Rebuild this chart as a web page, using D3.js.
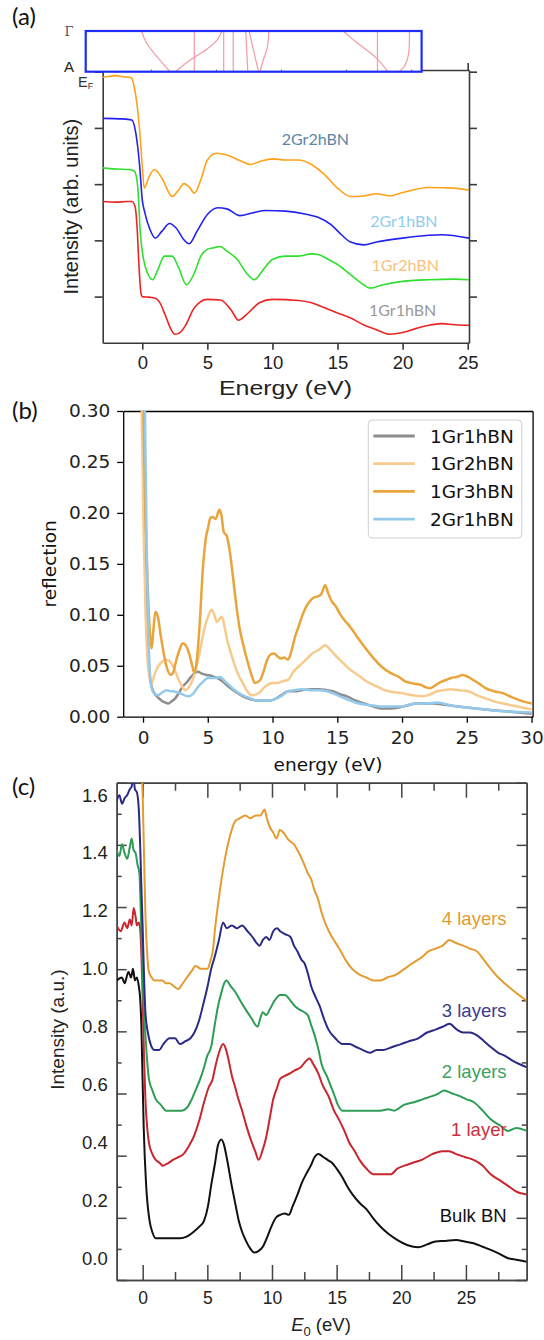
<!DOCTYPE html>
<html>
<head>
<meta charset="utf-8">
<script src="https://cdn.jsdelivr.net/npm/d3@7"></script>
<style>
  body { margin: 0; background: #fff; }
  svg { display: block; }
</style>
</head>
<body>
<svg id="fig" width="544" height="1340"></svg>
<script>
// ---------- panel (a) : intensity vs energy, offset curves ----------
const aTicksX = [0, 5, 10, 15, 20, 25];
const aTicksY = [1, 2, 3, 4, 5];
const a2Gr2hBN = [[-3.04,4.90],[-2.5,4.92],[-2.0,4.93],[-1.5,4.91],[-1.0,4.90],[-0.8,4.88],[-0.6,4.70],[-0.45,4.50],[-0.2,3.95],[0.0,3.32],[0.15,2.93],[0.5,3.12],[0.93,3.26],[1.5,3.11],[2.3,2.78],[2.8,2.90],[3.2,3.01],[3.6,2.95],[4.0,2.84],[4.5,3.08],[5.0,3.43],[5.7,3.55],[6.5,3.52],[7.5,3.42],[8.3,3.35],[9.0,3.40],[10,3.45],[11,3.43],[12,3.43],[13,3.35],[14,3.17],[15,2.93],[16,2.78],[17,2.79],[18,2.83],[19,2.79],[20,2.85],[22,2.94],[24,2.93],[25.1,2.89]];
const a2Gr1hBN = [[-3.04,4.17],[-1.5,4.16],[-0.8,4.14],[-0.5,3.91],[-0.2,3.32],[0.0,2.72],[0.2,2.49],[0.6,2.19],[1.0,2.04],[1.5,2.16],[2.1,2.30],[2.6,2.22],[3.2,2.01],[3.6,1.94],[4.2,2.16],[5.0,2.46],[5.8,2.58],[6.5,2.56],[7.5,2.44],[8.5,2.49],[9.5,2.53],[11,2.52],[12.5,2.47],[13.5,2.41],[14.5,2.28],[15.3,2.10],[16,1.97],[17,1.92],[18,1.97],[20,2.04],[22,2.09],[23,2.10],[25.1,2.04]];
const a1Gr2hBN = [[-3.04,3.29],[-2.0,3.27],[-1.0,3.26],[-0.6,3.23],[-0.35,2.96],[-0.15,2.13],[0.1,1.66],[0.4,1.42],[0.8,1.30],[1.2,1.48],[1.7,1.72],[2.3,1.72],[2.8,1.51],[3.4,1.21],[4.0,1.42],[4.5,1.72],[5.0,1.84],[5.5,1.87],[6.0,1.89],[6.5,1.81],[7.3,1.66],[8.0,1.42],[8.6,1.30],[9.3,1.48],[10,1.66],[11,1.72],[12,1.72],[13,1.76],[13.5,1.75],[14.3,1.66],[15,1.57],[16,1.39],[17,1.21],[17.5,1.15],[18.5,1.21],[20,1.27],[22,1.30],[24,1.31],[25.1,1.30]];
const a1Gr1hBN = [[-3.04,2.69],[-2.0,2.68],[-1.2,2.69],[-0.8,2.69],[-0.55,2.60],[-0.4,2.24],[-0.25,1.53],[-0.1,1.06],[0.0,1.00],[0.5,0.99],[1.0,0.97],[1.3,0.91],[1.8,0.65],[2.2,0.42],[2.5,0.33],[2.9,0.36],[3.3,0.48],[4.0,0.80],[5.0,0.95],[6.0,0.94],[6.8,0.77],[7.4,0.58],[8.0,0.68],[9.0,0.89],[10,0.95],[12,0.93],[13,0.89],[14,0.80],[15,0.71],[16,0.62],[17,0.50],[18,0.41],[19,0.33],[20,0.36],[21,0.43],[22,0.49],[23,0.52],[24,0.50],[25.1,0.49]];
// band-structure inset: each line is [energy, k] with k = 0 at A and 1 at Gamma
const bandTicks = [0, 5, 10, 15, 20, 25];
const bandLines = [
  [[4.29,1],[4.6,0.75],[5.14,0.5],[5.8,0.25],[6.48,0]],
  [[6.9,0],[8.0,0.28],[9.3,0.55],[10.1,0.78],[10.47,1]],
  [[8.34,0],[8.34,1]],
  [[10.6,0],[10.6,1]],
  [[11.33,0],[11.33,1]],
  [[12.29,1],[12.45,0]],
  [[12.55,1],[13.27,0]],
  [[14.07,1],[13.95,0.6],[13.6,0.25],[13.4,0]],
  [[19.8,1],[20.3,0.85],[21.5,0.55],[22.5,0.28],[23.2,0]],
  [[22.41,0],[22.41,1]],
  [[24.87,1],[24.85,0.6],[24.7,0.3],[24.4,0.1],[24.07,0]]
];

// ---------- panel (b) : reflection ----------
const bTicksX = [0, 5, 10, 15, 20, 25, 30];
const bTicksY = [0, 0.05, 0.10, 0.15, 0.20, 0.25, 0.30];
const bNames = ["1Gr1hBN", "1Gr2hBN", "1Gr3hBN", "2Gr1hBN"];
const b1Gr1hBN = [[-0.1,0.40],[0.05,0.30],[0.2,0.16],[0.35,0.08],[0.48,0.045],[0.7,0.028],[0.88,0.023],[1.15,0.019],[1.42,0.016],[1.7,0.014],[1.95,0.013],[2.2,0.015],[2.49,0.018],[2.75,0.023],[3.03,0.029],[3.4,0.034],[3.7,0.039],[4.23,0.044],[4.6,0.042],[4.9,0.041],[5.3,0.040],[5.7,0.038],[6.2,0.034],[6.64,0.029],[7.2,0.024],[7.71,0.020],[8.3,0.017],[8.78,0.016],[9.3,0.016],[9.85,0.016],[10.3,0.018],[10.66,0.021],[11.19,0.025],[11.7,0.025],[12.26,0.026],[13.0,0.027],[13.6,0.027],[14.2,0.026],[14.67,0.025],[15.2,0.022],[15.74,0.020],[16.4,0.016],[17.08,0.013],[17.8,0.010],[18.42,0.008],[19.1,0.008],[19.76,0.009],[20.4,0.011],[21.1,0.013],[21.8,0.013],[22.44,0.013],[23.1,0.012],[23.77,0.011],[25,0.009],[26.45,0.007],[28.2,0.005],[30,0.003]];
const b1Gr2hBN = [[-0.25,0.40],[-0.1,0.30],[0.05,0.18],[0.2,0.10],[0.35,0.055],[0.48,0.040],[0.67,0.033],[0.9,0.042],[1.15,0.049],[1.4,0.053],[1.69,0.056],[2.0,0.055],[2.22,0.052],[2.5,0.044],[2.76,0.036],[3.0,0.030],[3.29,0.026],[3.55,0.029],[3.83,0.036],[4.1,0.048],[4.36,0.062],[4.6,0.078],[4.77,0.088],[5.05,0.099],[5.3,0.105],[5.5,0.100],[5.7,0.093],[5.9,0.096],[6.1,0.098],[6.3,0.088],[6.5,0.075],[6.8,0.062],[7.04,0.052],[7.4,0.040],[7.71,0.033],[8.0,0.026],[8.38,0.021],[8.92,0.023],[9.3,0.028],[9.59,0.031],[10.0,0.033],[10.39,0.033],[10.8,0.035],[11.19,0.036],[11.6,0.044],[12.0,0.049],[12.5,0.055],[13.07,0.062],[13.6,0.066],[14.06,0.070],[14.5,0.065],[14.94,0.059],[15.5,0.052],[16.0,0.046],[16.7,0.040],[17.35,0.034],[18.0,0.030],[18.69,0.026],[19.4,0.024],[20.03,0.023],[20.8,0.021],[21.63,0.020],[22.2,0.022],[22.7,0.025],[23.2,0.026],[23.77,0.027],[24.4,0.026],[25.1,0.025],[25.8,0.021],[26.45,0.018],[27.1,0.015],[27.8,0.013],[28.9,0.010],[30,0.007]];
const b1Gr3hBN = [[-0.2,0.42],[0.0,0.33],[0.15,0.22],[0.3,0.15],[0.45,0.10],[0.58,0.075],[0.67,0.067],[0.8,0.085],[0.96,0.103],[1.15,0.098],[1.34,0.082],[1.6,0.062],[1.82,0.049],[2.14,0.041],[2.35,0.044],[2.5,0.052],[2.8,0.065],[3.08,0.072],[3.3,0.070],[3.56,0.062],[3.8,0.050],[3.96,0.043],[4.15,0.055],[4.36,0.088],[4.63,0.147],[4.85,0.175],[5.03,0.186],[5.2,0.195],[5.38,0.196],[5.6,0.194],[5.9,0.203],[6.05,0.198],[6.24,0.181],[6.45,0.178],[6.64,0.167],[6.91,0.141],[7.2,0.110],[7.44,0.088],[7.75,0.070],[8.03,0.056],[8.35,0.042],[8.65,0.033],[9.05,0.036],[9.3,0.044],[9.59,0.056],[9.85,0.061],[10.12,0.062],[10.4,0.059],[10.66,0.057],[10.9,0.058],[11.19,0.056],[11.45,0.064],[11.73,0.078],[12.0,0.088],[12.26,0.098],[12.6,0.108],[12.93,0.114],[13.2,0.117],[13.47,0.118],[13.75,0.120],[14.06,0.129],[14.3,0.121],[14.54,0.114],[14.9,0.108],[15.2,0.101],[15.6,0.094],[16.0,0.088],[16.5,0.079],[17.08,0.069],[17.7,0.059],[18.42,0.049],[19.1,0.043],[19.76,0.039],[20.2,0.035],[20.7,0.033],[21.1,0.032],[21.5,0.031],[21.8,0.029],[22.17,0.028],[22.6,0.031],[22.97,0.034],[23.4,0.036],[23.77,0.038],[24.2,0.039],[24.71,0.041],[25.1,0.039],[25.5,0.036],[26.0,0.032],[26.45,0.028],[27.1,0.025],[27.8,0.023],[28.5,0.019],[29.1,0.016],[30,0.013]];
const b2Gr1hBN = [[0.05,0.40],[0.15,0.30],[0.28,0.17],[0.4,0.09],[0.52,0.045],[0.62,0.032],[0.75,0.025],[0.95,0.022],[1.15,0.021],[1.5,0.024],[1.82,0.026],[2.1,0.025],[2.36,0.025],[2.6,0.024],[2.89,0.023],[3.2,0.021],[3.56,0.020],[3.9,0.023],[4.23,0.029],[4.6,0.034],[5.03,0.038],[5.5,0.038],[5.97,0.039],[6.3,0.035],[6.64,0.031],[7.2,0.025],[7.71,0.021],[8.3,0.018],[8.78,0.016],[9.3,0.016],[9.85,0.016],[10.3,0.018],[10.66,0.020],[11.19,0.025],[11.7,0.026],[12.26,0.027],[13.0,0.026],[13.6,0.026],[14.2,0.025],[14.67,0.023],[15.2,0.020],[15.74,0.017],[16.4,0.014],[17.08,0.012],[17.8,0.011],[18.42,0.010],[19.2,0.010],[20.03,0.010],[20.6,0.012],[21.1,0.013],[21.9,0.013],[22.7,0.014],[23.2,0.013],[23.77,0.011],[25,0.009],[26.45,0.007],[28.2,0.005],[30,0.004]];

// ---------- panel (c) : EELS intensity vs E0 ----------
const cTicksX = [0, 5, 10, 15, 20, 25];
const cMinorX = [2.5, 7.5, 12.5, 17.5, 22.5, 27.5];
const cTicksY = [0, 0.2, 0.4, 0.6, 0.8, 1.0, 1.2, 1.4, 1.6];
const cMarksMajor = [0, 0.2, 0.4, 0.6, 0.8, 1.0, 1.2, 1.4, 1.6];
const cMarksMinor = [0.1, 0.3, 0.5, 0.7, 0.9, 1.1, 1.3, 1.5];
const cBulk = [[-2.01,0.96],[-1.6,0.97],[-1.4,0.95],[-1.1,0.99],[-0.9,0.97],[-0.75,1.0],[-0.6,0.96],[-0.45,0.97],[-0.3,0.94],[-0.2,0.90],[-0.1,0.80],[-0.05,0.70],[0.08,0.45],[0.27,0.25],[0.53,0.13],[0.75,0.09],[1.01,0.069],[1.82,0.069],[2.88,0.069],[3.4,0.075],[3.95,0.092],[4.4,0.11],[4.75,0.13],[5.05,0.18],[5.29,0.25],[5.6,0.33],[5.82,0.39],[6.09,0.41],[6.3,0.39],[6.49,0.35],[6.89,0.25],[7.2,0.18],[7.43,0.13],[7.7,0.09],[7.96,0.063],[8.3,0.035],[8.63,0.020],[8.95,0.025],[9.29,0.040],[9.6,0.07],[9.96,0.11],[10.3,0.14],[10.63,0.15],[11.0,0.155],[11.3,0.15],[11.6,0.18],[11.97,0.22],[12.3,0.26],[12.63,0.29],[13.0,0.32],[13.3,0.35],[13.6,0.36],[13.97,0.35],[14.3,0.34],[14.64,0.33],[15.0,0.31],[15.44,0.28],[15.8,0.25],[16.24,0.22],[16.8,0.19],[17.3,0.17],[17.8,0.14],[18.38,0.11],[19.0,0.085],[19.71,0.063],[20.5,0.045],[21.31,0.038],[22.0,0.048],[22.65,0.058],[23.4,0.060],[24.25,0.063],[24.9,0.058],[25.59,0.052],[26.3,0.040],[26.92,0.029],[27.6,0.015],[28.26,0.0],[28.9,-0.005],[29.7,-0.012]];
const c1Layer = [[-2.01,1.15],[-1.7,1.13],[-1.4,1.16],[-1.2,1.14],[-1.0,1.17],[-0.85,1.15],[-0.7,1.21],[-0.55,1.18],[-0.45,1.15],[-0.3,1.16],[-0.2,1.14],[-0.1,1.05],[0.0,0.90],[0.1,0.70],[0.21,0.55],[0.35,0.45],[0.48,0.40],[0.75,0.36],[1.01,0.34],[1.3,0.33],[1.55,0.32],[2.0,0.33],[2.35,0.34],[2.8,0.35],[3.15,0.36],[3.6,0.39],[3.95,0.42],[4.4,0.48],[4.75,0.54],[5.1,0.59],[5.42,0.62],[5.56,0.65],[5.9,0.71],[6.22,0.74],[6.45,0.72],[6.62,0.69],[6.9,0.63],[7.16,0.59],[7.4,0.55],[7.69,0.51],[8.0,0.46],[8.36,0.41],[8.7,0.37],[8.97,0.34],[9.25,0.37],[9.56,0.42],[9.85,0.49],[10.1,0.55],[10.4,0.59],[10.63,0.62],[11.0,0.63],[11.43,0.64],[11.8,0.65],[12.23,0.66],[12.6,0.68],[12.9,0.69],[13.2,0.67],[13.57,0.64],[13.9,0.60],[14.37,0.56],[14.8,0.51],[15.17,0.48],[15.6,0.44],[15.97,0.40],[16.4,0.37],[16.77,0.34],[17.3,0.31],[17.84,0.29],[18.5,0.29],[19.18,0.29],[19.7,0.31],[20.25,0.32],[20.9,0.33],[21.58,0.34],[22.4,0.36],[23.18,0.37],[23.7,0.37],[24.25,0.36],[24.9,0.35],[25.59,0.34],[26.3,0.32],[26.92,0.29],[27.6,0.27],[28.26,0.25],[28.9,0.23],[29.7,0.22]];
const c2Layers = [[-2.01,1.41],[-1.8,1.39],[-1.6,1.43],[-1.4,1.40],[-1.2,1.38],[-1.0,1.42],[-0.85,1.45],[-0.7,1.41],[-0.55,1.40],[-0.4,1.36],[-0.25,1.33],[-0.15,1.20],[-0.05,1.05],[0.05,0.90],[0.2,0.78],[0.35,0.68],[0.48,0.62],[0.75,0.58],[1.01,0.55],[1.4,0.53],[1.82,0.51],[2.2,0.51],[2.62,0.51],[3.0,0.51],[3.42,0.52],[3.8,0.55],[4.09,0.58],[4.45,0.62],[4.75,0.66],[5.0,0.70],[5.29,0.73],[5.55,0.80],[5.82,0.87],[6.1,0.92],[6.3,0.95],[6.49,0.96],[6.8,0.94],[7.16,0.92],[7.55,0.89],[7.96,0.86],[8.4,0.83],[8.89,0.80],[9.1,0.83],[9.29,0.85],[9.55,0.84],[9.83,0.86],[10.2,0.89],[10.63,0.91],[11.0,0.91],[11.43,0.89],[11.8,0.87],[12.1,0.86],[12.5,0.85],[12.77,0.84],[13.0,0.81],[13.3,0.77],[13.6,0.72],[13.84,0.67],[14.24,0.63],[14.5,0.60],[14.77,0.57],[15.1,0.53],[15.44,0.51],[16.1,0.51],[16.77,0.51],[17.5,0.51],[18.38,0.51],[19.0,0.515],[19.44,0.51],[20.2,0.53],[21.05,0.54],[21.7,0.55],[22.38,0.56],[22.9,0.57],[23.32,0.58],[23.9,0.57],[24.52,0.56],[25.0,0.55],[25.59,0.54],[26.3,0.51],[26.92,0.48],[27.6,0.46],[28.26,0.44],[28.9,0.45],[29.7,0.44]];
const c3Layers = [[-2.01,1.58],[-1.8,1.60],[-1.6,1.57],[-1.39,1.59],[-1.2,1.60],[-1.0,1.62],[-0.85,1.63],[-0.75,1.68],[-0.6,1.62],[-0.45,1.61],[-0.3,1.55],[-0.19,1.42],[-0.1,1.28],[0.0,1.14],[0.1,0.98],[0.21,0.85],[0.4,0.78],[0.61,0.74],[0.9,0.72],[1.28,0.72],[1.6,0.74],[2.08,0.76],[2.5,0.76],[2.88,0.74],[3.3,0.75],[3.69,0.76],[4.0,0.78],[4.35,0.82],[4.7,0.88],[5.02,0.94],[5.3,1.00],[5.56,1.04],[5.9,1.10],[6.22,1.16],[6.5,1.14],[6.89,1.15],[7.3,1.14],[7.69,1.15],[8.1,1.13],[8.49,1.11],[8.8,1.09],[9.03,1.08],[9.3,1.10],[9.56,1.11],[9.8,1.10],[10.1,1.13],[10.4,1.14],[10.63,1.13],[11.0,1.12],[11.43,1.11],[11.7,1.08],[11.97,1.06],[12.3,1.03],[12.5,1.02],[12.8,0.98],[13.03,0.94],[13.4,0.90],[13.7,0.87],[14.0,0.83],[14.37,0.79],[14.9,0.76],[15.44,0.74],[16.0,0.74],[16.51,0.73],[17.0,0.72],[17.57,0.71],[18.1,0.72],[18.64,0.72],[19.3,0.73],[19.98,0.74],[20.6,0.75],[21.31,0.76],[22.0,0.78],[22.65,0.79],[23.2,0.80],[23.72,0.81],[24.3,0.79],[24.79,0.78],[25.3,0.78],[25.86,0.77],[26.4,0.75],[26.92,0.73],[27.5,0.71],[27.99,0.70],[28.7,0.68],[29.7,0.66]];
const c4Layers = [[-0.3,1.9],[-0.15,1.75],[0.0,1.60],[0.1,1.40],[0.21,1.19],[0.35,1.05],[0.48,0.99],[0.7,0.97],[0.88,0.96],[1.2,0.96],[1.55,0.96],[1.8,0.95],[2.08,0.95],[2.4,0.94],[2.75,0.93],[3.1,0.95],[3.42,0.97],[3.75,0.99],[4.09,1.01],[4.5,1.00],[4.8,1.00],[5.02,1.00],[5.25,1.03],[5.42,1.06],[5.6,1.14],[5.82,1.22],[6.1,1.31],[6.36,1.38],[6.7,1.45],[7.16,1.51],[7.5,1.52],[7.96,1.53],[8.3,1.52],[8.76,1.53],[9.1,1.53],[9.43,1.55],[9.6,1.52],[9.83,1.49],[10.1,1.47],[10.36,1.45],[10.6,1.48],[10.9,1.47],[11.2,1.45],[11.43,1.44],[11.7,1.43],[11.97,1.41],[12.2,1.39],[12.5,1.36],[12.77,1.33],[13.03,1.31],[13.3,1.27],[13.57,1.24],[13.8,1.20],[14.1,1.16],[14.4,1.13],[14.64,1.11],[15.2,1.07],[15.7,1.03],[16.2,1.00],[16.77,0.98],[17.3,0.97],[17.84,0.96],[18.4,0.96],[18.91,0.97],[19.6,0.98],[20.25,1.00],[20.9,1.02],[21.58,1.04],[22.1,1.06],[22.65,1.07],[23.2,1.08],[23.72,1.10],[24.2,1.09],[24.79,1.08],[25.3,1.07],[25.86,1.06],[26.4,1.03],[26.92,1.00],[27.5,0.97],[27.99,0.95],[28.8,0.92],[29.7,0.89]];

const svg = d3.select("#fig");
const SANS = "'Liberation Sans', Arial, sans-serif";
const DJV = "'DejaVu Sans', sans-serif";
const CAL = "Lato, 'Open Sans', sans-serif";

function styleAxis(g, color, width, font, size) {
  g.select(".domain").attr("stroke", color).attr("stroke-width", width);
  g.selectAll(".tick line").attr("stroke", color).attr("stroke-width", width);
  g.selectAll(".tick text").attr("fill", "#222").attr("font-family", font).attr("font-size", size);
}

function addClip(id, x, y) {
  svg.append("clipPath").attr("id", id).append("rect")
    .attr("x", x.range()[0]).attr("y", y.range()[1])
    .attr("width", x.range()[1] - x.range()[0])
    .attr("height", y.range()[0] - y.range()[1]);
}

function drawSeries(g, data, x, y, color, width, clip) {
  g.append("path").datum(data)
    .attr("clip-path", `url(#${clip})`)
    .attr("fill", "none").attr("stroke", color)
    .attr("stroke-width", width).attr("stroke-linejoin", "round")
    .attr("d", d3.line().x(d => x(d[0])).y(d => y(d[1])).curve(d3.curveMonotoneX));
}

// ======================= (a) =======================
const aX = d3.scaleLinear().domain([-3.04, 25.1]).range([102.7, 469]);
const aY = d3.scaleLinear().domain([0.18, 5.03]).range([342.7, 70]);
const pa = svg.append("g");
addClip("clipA", aX, aY);

const aAxisColor = "#3a3a3a";
pa.append("g").attr("transform", `translate(0,${aY.range()[0]})`)
  .call(d3.axisBottom(aX).tickValues(aTicksX).tickSize(7).tickSizeOuter(0).tickPadding(6))
  .call(g => styleAxis(g, aAxisColor, 1.6, SANS, 18.5));
pa.append("g").attr("transform", `translate(0,${aY.range()[1]})`)
  .call(d3.axisTop(aX).tickValues(aTicksX).tickSize(7).tickSizeOuter(0).tickFormat(""))
  .call(g => styleAxis(g, aAxisColor, 1.6, SANS, 18));
pa.append("g").attr("transform", `translate(${aX.range()[0]},0)`)
  .call(d3.axisLeft(aY).tickValues(aTicksY).tickSize(8).tickSizeOuter(0).tickFormat(""))
  .call(g => styleAxis(g, aAxisColor, 1.6, SANS, 18));
pa.append("g").attr("transform", `translate(${aX.range()[1]},0)`)
  .call(d3.axisRight(aY).tickValues(aTicksY).tickSize(8).tickSizeOuter(0).tickFormat(""))
  .call(g => styleAxis(g, aAxisColor, 1.6, SANS, 18));

drawSeries(pa, a1Gr1hBN, aX, aY, "#ee2424", 1.6, "clipA");
drawSeries(pa, a1Gr2hBN, aX, aY, "#2fe02f", 1.6, "clipA");
drawSeries(pa, a2Gr1hBN, aX, aY, "#2222f0", 1.6, "clipA");
drawSeries(pa, a2Gr2hBN, aX, aY, "#ffa21a", 1.6, "clipA");

// band inset
const bandX = d3.scaleLinear().domain([0, 25.8]).range([85.7, 421.6]);
const bandK = d3.scaleLinear().domain([0, 1]).range([71.7, 31]);
pa.append("rect")
  .attr("x", bandX(0)).attr("y", bandK(1))
  .attr("width", bandX(25.8) - bandX(0)).attr("height", bandK(0) - bandK(1))
  .attr("fill", "#fff").attr("stroke", "none");
pa.append("g").attr("transform", `translate(0,${bandK(0)})`)
  .call(d3.axisTop(bandX).tickValues(bandTicks).tickSize(2).tickSizeOuter(0).tickFormat(""))
  .call(g => { g.select(".domain").remove(); g.selectAll(".tick line").attr("stroke", "#555"); });
pa.selectAll(".band").data(bandLines).join("path")
  .attr("fill", "none").attr("stroke", "#f59aa3").attr("stroke-width", 1.2)
  .attr("d", d3.line().x(d => bandX(d[0])).y(d => bandK(d[1])).curve(d3.curveMonotoneY));
pa.append("rect")
  .attr("x", bandX(0)).attr("y", bandK(1))
  .attr("width", bandX(25.8) - bandX(0)).attr("height", bandK(0) - bandK(1))
  .attr("fill", "none").attr("stroke", "#1f2cf5").attr("stroke-width", 2.2);

pa.append("text").attr("x", 69).attr("y", bandK(1) + 5).attr("text-anchor", "middle")
  .attr("font-family", "'DejaVu Serif', serif").attr("font-size", 13).attr("fill", "#555").text("Γ");
pa.append("text").attr("x", 69).attr("y", bandK(0)).attr("text-anchor", "middle")
  .attr("font-family", SANS).attr("font-size", 15).attr("fill", "#222").text("A");
const ef = pa.append("text").attr("x", 78).attr("y", 87)
  .attr("font-family", SANS).attr("font-size", 14.5).attr("fill", "#333");
ef.append("tspan").text("E");
ef.append("tspan").attr("dy", 2).attr("font-size", 9).text("F");

pa.append("text").attr("x", aX(11)).attr("y", 395).attr("text-anchor", "middle")
  .attr("font-family", SANS).attr("font-size", 19.5).attr("fill", "#222")
  .attr("textLength", 133).attr("lengthAdjust", "spacingAndGlyphs").text("Energy (eV)");
pa.append("text").attr("transform", `translate(78,${aY(2.6)}) rotate(-90)`)
  .attr("text-anchor", "middle").attr("font-family", SANS).attr("font-size", 20).attr("fill", "#222")
  .text("Intensity (arb. units)");

const aLabels = [
  { t: "2Gr2hBN", x: 13.3, y: 3.79, c: "#5b86a8" },
  { t: "2Gr1hBN", x: 20.1, y: 2.33, c: "#8fcdf0" },
  { t: "1Gr2hBN", x: 20.2, y: 1.56, c: "#f7c27e" },
  { t: "1Gr1hBN", x: 20.0, y: 0.76, c: "#9a9a9a" }
];
pa.selectAll(".alab").data(aLabels).join("text")
  .attr("x", d => aX(d.x)).attr("y", d => aY(d.y)).attr("dy", "0.35em")
  .attr("text-anchor", "middle").attr("font-family", CAL).attr("font-size", 16)
  .attr("fill", d => d.c).text(d => d.t);

svg.append("text").attr("x", 12).attr("y", 25).attr("font-family", CAL).attr("font-size", 24)
  .attr("fill", "#111").text("(a)");

// ======================= (b) =======================
const bX = d3.scaleLinear().domain([-1.53, 30.08]).range([123.2, 532.6]);
const bY = d3.scaleLinear().domain([0, 0.30]).range([716.7, 411]);
const pb = svg.append("g");
addClip("clipB", bX, bY);

pb.append("g").attr("transform", `translate(${bX.range()[0]},0)`)
  .call(d3.axisLeft(bY).tickValues(bTicksY).tickFormat(d3.format(".2f")).tickSize(6).tickSizeOuter(0).tickPadding(7))
  .call(g => styleAxis(g, "#000", 1.3, DJV, 18.5));
pb.append("g").attr("transform", `translate(0,${bY.range()[0]})`)
  .call(d3.axisBottom(bX).tickValues(bTicksX).tickSize(6).tickSizeOuter(0).tickPadding(8))
  .call(g => styleAxis(g, "#000", 1.3, DJV, 18.5));
pb.append("g").attr("transform", `translate(0,${bY.range()[1]})`)
  .call(d3.axisTop(bX).tickValues([]).tickSizeOuter(0))
  .call(g => styleAxis(g, "#000", 1.3, DJV, 18.5));
pb.append("g").attr("transform", `translate(${bX.range()[1]},0)`)
  .call(d3.axisRight(bY).tickValues([]).tickSizeOuter(0))
  .call(g => styleAxis(g, "#000", 1.3, DJV, 18.5));

const bColors = ["#8e8e8e", "#f6cb8d", "#e9a43c", "#94c9ec"];
[b1Gr1hBN, b1Gr2hBN, b1Gr3hBN, b2Gr1hBN].forEach((s, i) => drawSeries(pb, s, bX, bY, bColors[i], 2.5, "clipB"));

const leg = pb.append("g").attr("transform", "translate(368.3,420)");
leg.append("rect").attr("width", 153.5).attr("height", 118).attr("rx", 4)
  .attr("fill", "#fff").attr("fill-opacity", 0.85).attr("stroke", "#cfcfcf").attr("stroke-width", 1);
bNames.forEach((n, i) => {
  const yy = 16 + i * 27.7;
  leg.append("line").attr("x1", 5).attr("x2", 46.5).attr("y1", yy).attr("y2", yy)
    .attr("stroke", bColors[i]).attr("stroke-width", 2.8);
  leg.append("text").attr("x", 61.7).attr("y", yy).attr("dy", "0.36em")
    .attr("font-family", DJV).attr("font-size", 18.5).attr("fill", "#111").text(n);
});

pb.append("text").attr("x", 328).attr("y", 771).attr("text-anchor", "middle")
  .attr("font-family", DJV).attr("font-size", 18.5).attr("fill", "#111").text("energy (eV)");
pb.append("text").attr("transform", `translate(56,${bY(0.15)}) rotate(-90)`)
  .attr("text-anchor", "middle").attr("font-family", DJV).attr("font-size", 18.5).attr("fill", "#111")
  .text("reflection");
svg.append("text").attr("x", 12).attr("y", 419).attr("font-family", CAL).attr("font-size", 24)
  .attr("fill", "#111").text("(b)");

// ======================= (c) =======================
const cX = d3.scaleLinear().domain([-2.01, 29.7]).range([116.7, 526.7]);
const cY = d3.scaleLinear().domain([-0.075, 1.643]).range([1280, 782.7]);
const cMark = d3.scaleLinear().domain([0, 1.6]).range([1280, 782.7]);
const pc = svg.append("g");
addClip("clipC", cX, cY);
const cCol = "#444";

[[d3.axisBottom, cY.range()[0]], [d3.axisTop, cY.range()[1]]].forEach(([ax, ty]) => {
  pc.append("g").attr("transform", `translate(0,${ty})`)
    .call(ax(cX).tickValues(cMinorX).tickSize(-8).tickSizeOuter(0).tickFormat(""))
    .call(g => styleAxis(g, cCol, 1.5, SANS, 17));
  pc.append("g").attr("transform", `translate(0,${ty})`)
    .call(ax(cX).tickValues(cTicksX).tickSize(-15).tickSizeOuter(0)
      .tickFormat(ax === d3.axisBottom ? d3.format("d") : ""))
    .call(g => styleAxis(g, cCol, 1.5, SANS, 17.5))
    .call(g => g.selectAll(".tick text").attr("y", 12));
});
[[d3.axisLeft, cX.range()[0]], [d3.axisRight, cX.range()[1]]].forEach(([ax, tx]) => {
  pc.append("g").attr("transform", `translate(${tx},0)`)
    .call(ax(cMark).tickValues(cMarksMinor).tickSize(-5).tickSizeOuter(0).tickFormat(""))
    .call(g => styleAxis(g, cCol, 1.5, SANS, 17));
  pc.append("g").attr("transform", `translate(${tx},0)`)
    .call(ax(cMark).tickValues(cMarksMajor).tickSize(-10).tickSizeOuter(0).tickFormat(""))
    .call(g => styleAxis(g, cCol, 1.5, SANS, 17));
});
pc.append("g").attr("transform", `translate(${cX.range()[0]},0)`)
  .call(d3.axisLeft(cY).tickValues(cTicksY).tickSize(0).tickPadding(9).tickFormat(d3.format(".1f")))
  .call(g => { g.select(".domain").remove(); styleAxis(g, cCol, 1.5, SANS, 18.5); });

drawSeries(pc, cBulk, cX, cY, "#111111", 2, "clipC");
drawSeries(pc, c1Layer, cX, cY, "#c8252f", 2, "clipC");
drawSeries(pc, c2Layers, cX, cY, "#2f9c55", 2, "clipC");
drawSeries(pc, c3Layers, cX, cY, "#2b2b86", 2, "clipC");
drawSeries(pc, c4Layers, cX, cY, "#e49b2f", 2, "clipC");

const cLabels = [
  { t: "4 layers", y: 1.175, c: "#e49b2f" },
  { t: "3 layers", y: 0.855, c: "#3b3b8f" },
  { t: "2 layers", y: 0.645, c: "#3aa35f" },
  { t: "1 layer", y: 0.445, c: "#c8303a" },
  { t: "Bulk BN", y: 0.15, c: "#111" }
];
pc.selectAll(".clab").data(cLabels).join("text")
  .attr("x", 506.6).attr("y", d => cY(d.y)).attr("dy", "0.36em").attr("text-anchor", "end")
  .attr("font-family", SANS).attr("font-size", 18.5).attr("fill", d => d.c).text(d => d.t);

const xl = pc.append("text").attr("x", 321).attr("y", 1331).attr("text-anchor", "middle")
  .attr("font-family", SANS).attr("font-size", 18.5).attr("fill", "#222");
xl.append("tspan").attr("font-style", "italic").text("E");
xl.append("tspan").attr("dy", 5).attr("font-size", 13).text("0");
xl.append("tspan").attr("dy", -5).text(" (eV)");
pc.append("text").attr("transform", `translate(64,${cY(0.79)}) rotate(-90)`)
  .attr("text-anchor", "middle").attr("font-family", SANS).attr("font-size", 19).attr("fill", "#222")
  .text("Intensity (a.u.)");
svg.append("text").attr("x", 12).attr("y", 795).attr("font-family", CAL).attr("font-size", 24)
  .attr("fill", "#111").text("(c)");
</script>
</body>
</html>
